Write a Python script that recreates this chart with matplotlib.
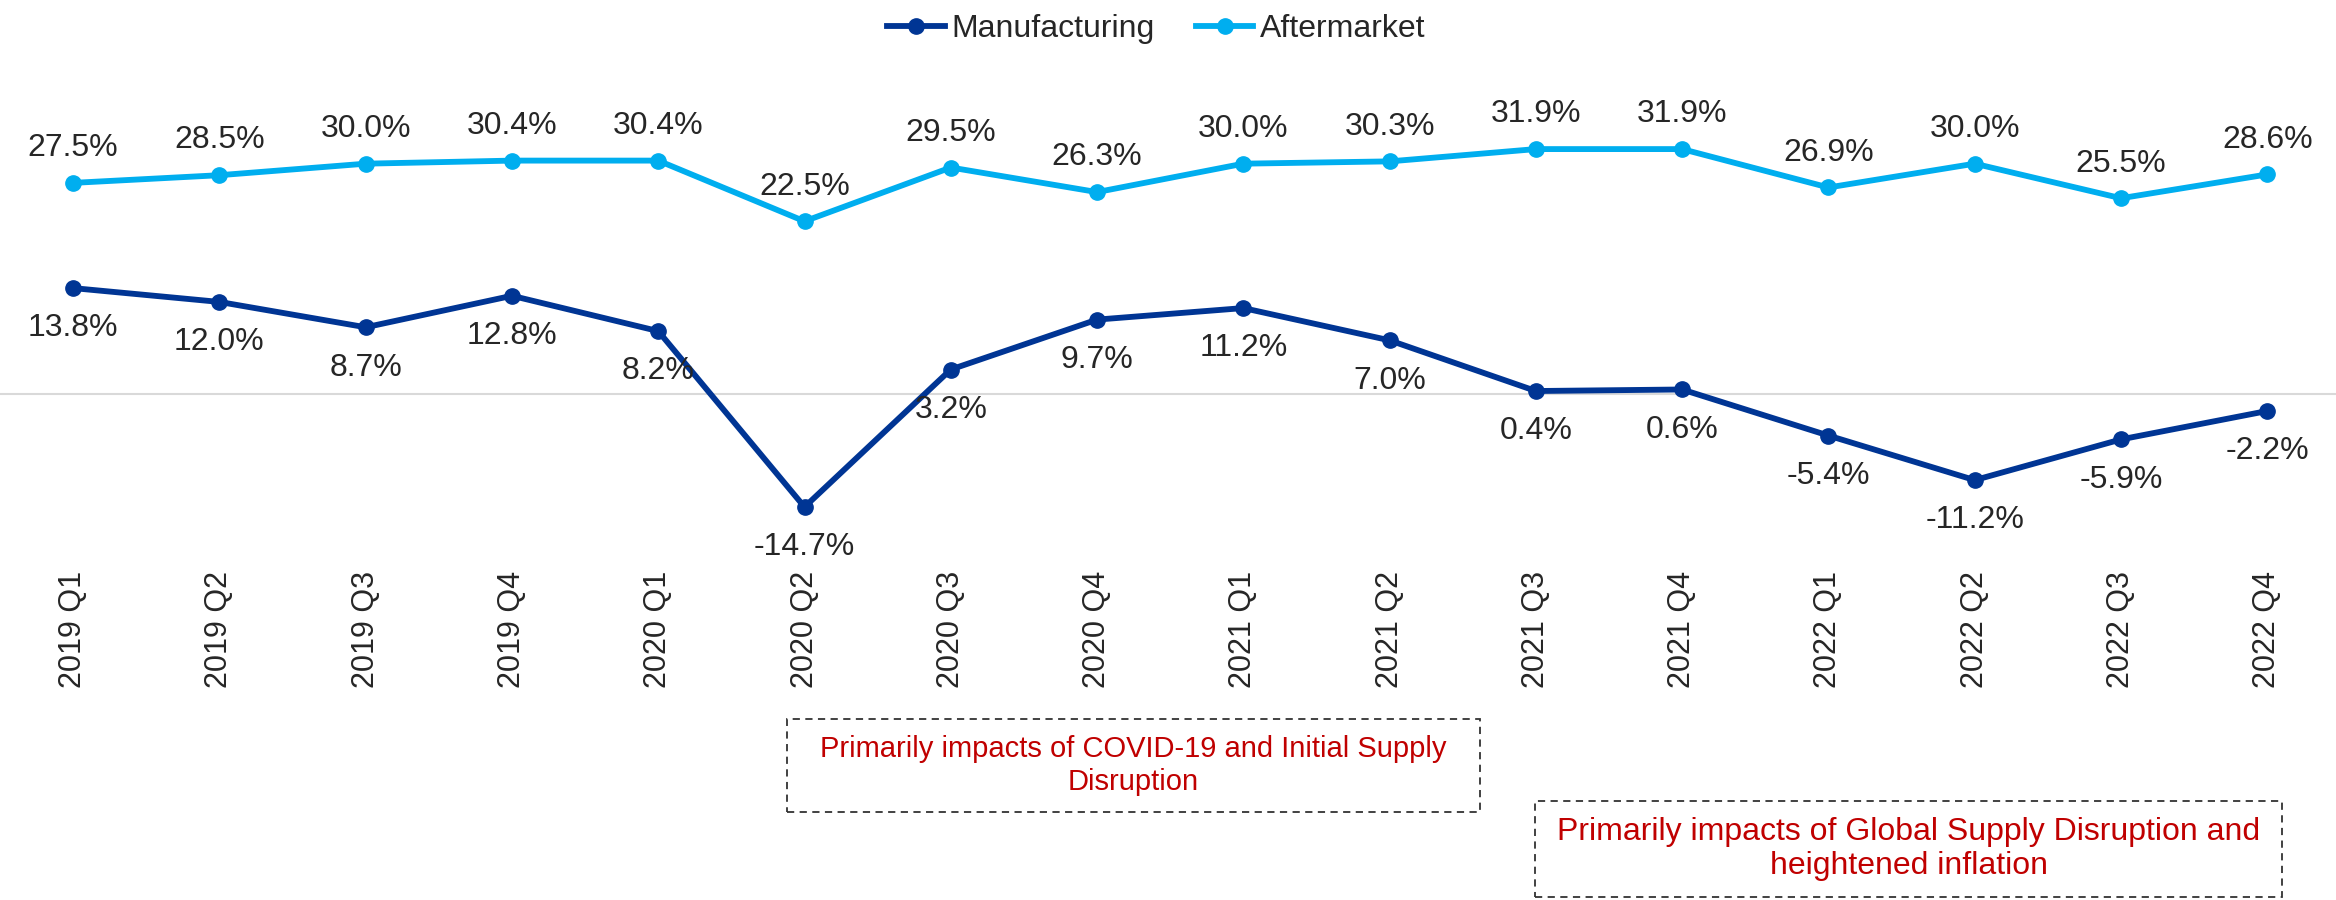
import matplotlib.pyplot as plt
from matplotlib.patches import Rectangle

plt.rcParams["font.family"] = ["Liberation Sans", "DejaVu Sans"]

quarters = [
    "2019 Q1", "2019 Q2", "2019 Q3", "2019 Q4",
    "2020 Q1", "2020 Q2", "2020 Q3", "2020 Q4",
    "2021 Q1", "2021 Q2", "2021 Q3", "2021 Q4",
    "2022 Q1", "2022 Q2", "2022 Q3", "2022 Q4",
]
manufacturing = [13.8, 12.0, 8.7, 12.8, 8.2, -14.7, 3.2, 9.7,
                 11.2, 7.0, 0.4, 0.6, -5.4, -11.2, -5.9, -2.2]
aftermarket = [27.5, 28.5, 30.0, 30.4, 30.4, 22.5, 29.5, 26.3,
               30.0, 30.3, 31.9, 31.9, 26.9, 30.0, 25.5, 28.6]
notes = [
    "Primarily impacts of COVID-19 and Initial Supply\nDisruption",
    "Primarily impacts of Global Supply Disruption and\nheightened inflation",
]

W, H = 2336, 900
fig = plt.figure(figsize=(W / 100, H / 100), dpi=100)
ax = fig.add_axes([0, 1 - 560 / H, 1, 510 / H])

dark = "#003594"
light = "#00AEEF"
txt = "#262626"

x = list(range(len(quarters)))
ax.axhline(0, color="#D9D9D9", lw=1.5, zorder=1)
ax.plot(x, manufacturing, color=dark, lw=4.2, marker="o", ms=11,
        label="Manufacturing", zorder=3)
ax.plot(x, aftermarket, color=light, lw=4.2, marker="o", ms=11,
        label="Aftermarket", zorder=3)

for i, v in enumerate(manufacturing):
    ax.annotate(f"{v:.1f}%", (i, v), xytext=(0, -29), textcoords="offset points",
                ha="center", va="center", fontsize=23, color=txt)
for i, v in enumerate(aftermarket):
    ax.annotate(f"{v:.1f}%", (i, v), xytext=(0, 25), textcoords="offset points",
                ha="center", va="center", fontsize=23, color=txt)

ax.set_xlim(-0.5, 15.47)
ax.set_ylim(-21.6, 44.8)
ax.set_xticks(x)
ax.set_xticklabels(quarters, rotation=90, fontsize=22, color=txt)
ax.tick_params(axis="x", length=0, pad=8)
ax.set_yticks([])
for s in ax.spines.values():
    s.set_visible(False)

fig.legend(loc="upper center", bbox_to_anchor=(0.495, 1.0), ncol=2, frameon=False,
           fontsize=23, handlelength=1.8, handletextpad=0.2, columnspacing=1.3,
           labelcolor=txt, borderaxespad=0.05)

# dashed note boxes (pixel extents converted to figure fractions)
boxes = [(787, 719, 1480, 812), (1535, 801, 2282, 897)]
sizes = [21, 23]
for (x0, y0, x1, y1), note, fs in zip(boxes, notes, sizes):
    fig.add_artist(Rectangle((x0 / W, 1 - y1 / H), (x1 - x0) / W, (y1 - y0) / H,
                             transform=fig.transFigure, fill=False,
                             edgecolor="#333333", lw=1.3, linestyle=(0, (4, 3))))
    fig.text((x0 + x1) / 2 / W, 1 - (y0 + y1) / 2 / H, note, ha="center",
             va="center", fontsize=fs, color="#C00000", linespacing=1.2)

fig.savefig("out.png", dpi=100)
